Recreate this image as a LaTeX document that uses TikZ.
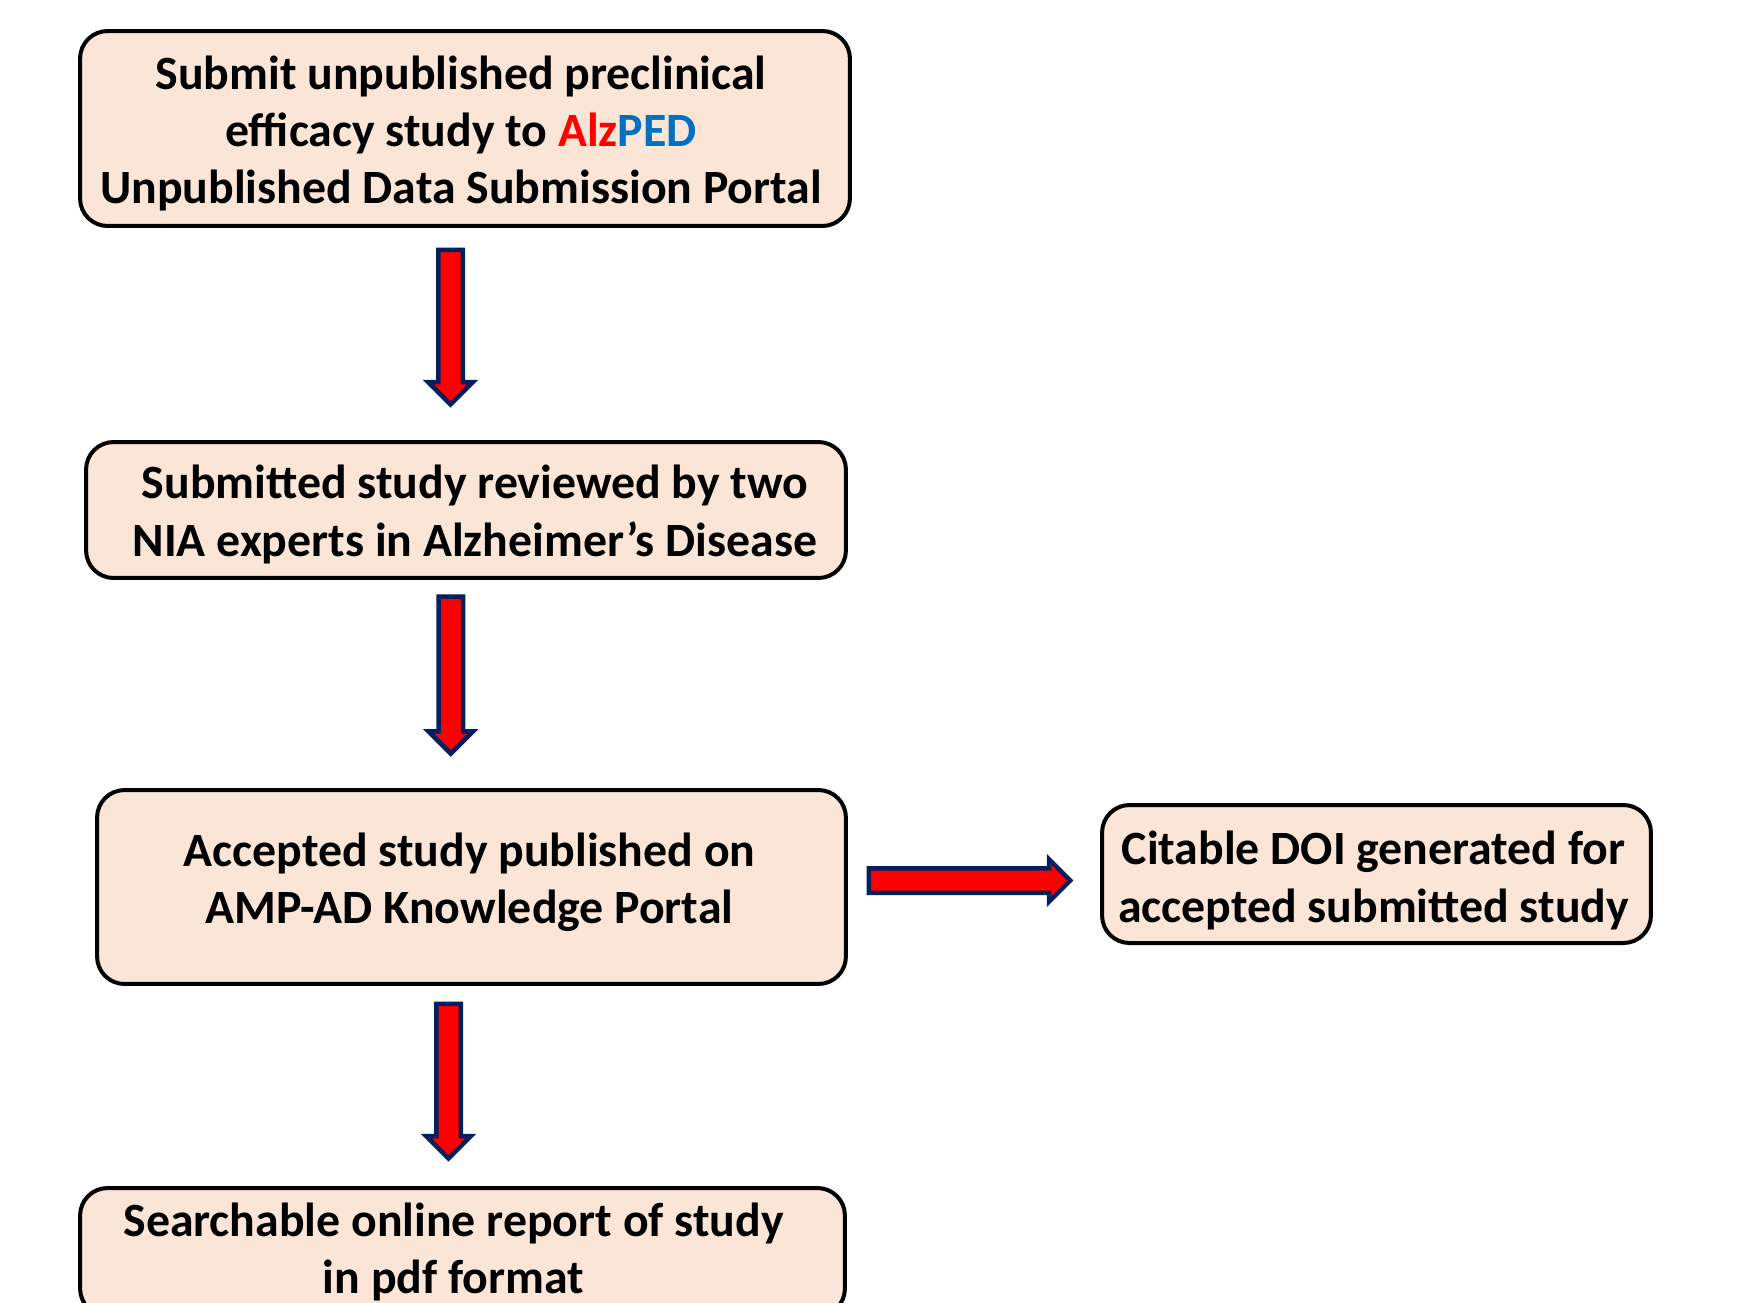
\documentclass[tikz,border=0pt]{standalone}
\usepackage{fontspec}
\setmainfont{Carlito}
\usetikzlibrary{shapes.arrows,calc}
\definecolor{boxfill}{HTML}{FBE5D6}
\definecolor{arrownavy}{HTML}{002060}
\definecolor{alzred}{HTML}{FF0000}
\definecolor{pedblue}{HTML}{0070C0}
\begin{document}
\begin{tikzpicture}[x=0.02cm,y=-0.02cm,
  stepbox/.style={draw,line width=0.08cm,rounded corners=0.55cm,fill=boxfill,inner sep=0pt},
  boxtext/.style={align=center,inner sep=0pt,font=\fontsize{27.2pt}{32.7pt}\selectfont\bfseries},
  fatarrow/.style={single arrow,draw=arrownavy,fill=red,line width=0.09cm,inner xsep=0pt,inner ysep=0.2cm,
    single arrow head extend=0.2cm,single arrow head indent=0pt}]
  \useasboundingbox (0,0) rectangle (1754,1302);
  % the boxes
  \node (submit_box) at (465,128.5) [stepbox,minimum width=15.4cm,minimum height=3.9cm,
    label={[boxtext,name=submit_text,shift={(-0.08cm,-0.1cm)}]center:Submit unpublished preclinical\\efficacy study to \textcolor{alzred}{Alz}\textcolor{pedblue}{PED}\\Unpublished Data Submission Portal}] {};
  \node (review_box) at (466,510) [stepbox,minimum width=15.2cm,minimum height=2.72cm,
    label={[boxtext,name=review_text,shift={(0.18cm,-0.09cm)}]center:Submitted study reviewed by two\\NIA experts in Alzheimer's Disease}] {};
  \node (publish_box) at (471.5,887) [stepbox,minimum width=14.98cm,minimum height=3.88cm,
    label={[boxtext,name=publish_text,shift={(-0.04cm,0.1cm)}]center:Accepted study published on\\AMP-AD Knowledge Portal}] {};
  \node (doi_box) at (1376.5,874) [stepbox,minimum width=10.98cm,minimum height=2.76cm,
    label={[boxtext,name=doi_text,shift={(-0.06cm,-0.13cm)}]center:Citable DOI generated for\\accepted submitted study}] {};
  \node (report_box) at (462.5,1252) [stepbox,minimum width=15.3cm,minimum height=2.56cm,
    label={[boxtext,name=report_text,shift={(-0.18cm,0cm)}]center:Searchable online report of study\\in pdf format}] {};
  % the arrows
  \node (submit_arrow) at ($(submit_box.south)!0.5!(review_box.north)+(-15,-13)$) [fatarrow,rotate=-90,minimum height=3.09cm] {};
  \node (review_arrow) at ($(review_box.south)!0.5!(publish_box.north)+(-18,-15)$) [fatarrow,rotate=-90,minimum height=3.14cm] {};
  \node (publish_arrow) at ($(publish_box.south)!0.5!(report_box.north)+(-18.5,-11)$) [fatarrow,rotate=-90,minimum height=3.09cm] {};
  \node (doi_arrow) at ($(publish_box.east)!0.5!(doi_box.west)+(-10.6,0)$) [fatarrow,single arrow head extend=0.18cm,minimum height=4.03cm] {};
\end{tikzpicture}
\end{document}
